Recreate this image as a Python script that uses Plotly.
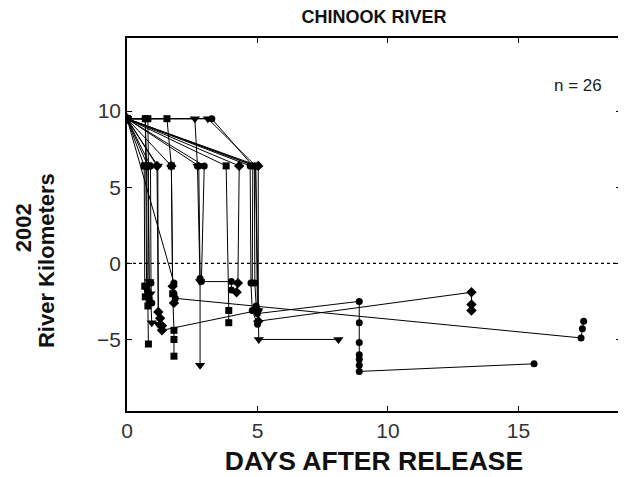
import plotly.graph_objects as go

# ---- data: each track = (days after release, river km) ----
days_01 = [0, 0.7, 0.72, 0.75, 0.8, 0.82]
rkm_01 = [9.5, 9.5, 6.4, -1.5, -2.8, -5.3]
days_02 = [0, 0.8, 0.85, 0.9, 0.95]
rkm_02 = [9.5, 6.4, -1.2, -2.0, -3.9]
days_03 = [0, 0.9, 0.92, 0.95]
rkm_03 = [9.5, 6.4, -1.3, -2.6]
days_04 = [0, 1.15, 1.2, 1.27, 1.34, 1.34, 5.0]
rkm_04 = [9.5, 6.4, -3.2, -3.6, -4.1, -4.4, -3.1]
days_05 = [0, 1.8, 1.8, 1.85, 17.4, 17.45, 17.5]
rkm_05 = [9.5, -1.3, -2.0, -2.3, -4.9, -4.3, -3.8]
days_06 = [0, 1.53, 1.7, 1.75, 1.8, 1.8, 1.8]
rkm_06 = [9.5, 9.5, 6.4, -2.0, -4.4, -5.0, -6.1]
days_07 = [0, 2.6, 2.7, 2.8, 2.8]
rkm_07 = [9.5, 9.5, 6.4, -1.2, -6.7]
days_08 = [0, 3.1, 4.93, 5.03, 5.05, 8.1]
rkm_08 = [9.5, 9.5, 6.4, -3.1, -5.0, -5.0]
days_09 = [0, 3.25, 4.82, 4.8]
rkm_09 = [9.5, 9.5, 6.4, -1.3]
days_10 = [0, 2.96, 2.85, 4.0, 4.0]
rkm_10 = [9.5, 6.4, -1.2, -1.2, -1.75]
days_11 = [0, 3.8, 3.9, 3.9]
rkm_11 = [9.5, 6.4, -3.1, -3.9]
days_12 = [0, 4.3, 4.25, 4.2]
rkm_12 = [9.5, 6.4, -1.3, -1.9]
days_13 = [0, 4.72, 4.75, 4.8, 5.0]
rkm_13 = [9.5, 6.4, -1.3, -3.1, -4.0]
days_14 = [0, 5.03, 5.03, 13.2, 13.2, 13.2]
rkm_14 = [9.5, 6.4, -3.8, -1.9, -2.7, -3.1]
days_15 = [0, 4.93, 5.0, 8.9, 8.9, 8.9, 8.9, 8.9, 8.9, 8.9, 15.6]
rkm_15 = [9.5, 6.4, -3.3, -2.5, -3.9, -5.2, -6.0, -6.3, -6.7, -7.1, -6.6]
days_16 = [0, 0.66, 0.68, 0.7]
rkm_16 = [9.5, 6.4, -1.5, -2.2]
days_17 = [0, 0.8, 0.82, 0.85]
rkm_17 = [9.5, 9.5, 6.4, -2.4]
days_18 = [0, 1.18, 1.2]
rkm_18 = [9.5, 6.4, -4.0]
days_19 = [0, 4.88, 4.9, 4.95]
rkm_19 = [9.5, 6.4, -1.3, -2.8]
days_20 = [0, 0.7, 0.75, 0.78]
rkm_20 = [9.5, 9.5, 6.4, -1.8]
days_21 = [0, 1.7, 1.75, 1.8]
rkm_21 = [9.5, 6.4, -1.5, -2.6]
days_22 = [0, 2.7, 2.75, 2.8]
rkm_22 = [9.5, 6.4, 6.4, -1.0]

tracks = [
    (days_01, rkm_01, "square"), (days_02, rkm_02, "triangle-down"),
    (days_03, rkm_03, "circle"), (days_04, rkm_04, "diamond"),
    (days_05, rkm_05, "circle"), (days_06, rkm_06, "square"),
    (days_07, rkm_07, "triangle-down"), (days_08, rkm_08, "triangle-down"),
    (days_09, rkm_09, "circle"), (days_10, rkm_10, "circle"),
    (days_11, rkm_11, "square"), (days_12, rkm_12, "diamond"),
    (days_13, rkm_13, "circle"), (days_14, rkm_14, "diamond"),
    (days_15, rkm_15, "circle"), (days_16, rkm_16, "square"),
    (days_17, rkm_17, "square"), (days_18, rkm_18, "triangle-down"),
    (days_19, rkm_19, "circle"), (days_20, rkm_20, "circle"),
    (days_21, rkm_21, "diamond"), (days_22, rkm_22, "circle"),
]

x_ticks = [0, 5, 10, 15]
y_ticks = [-5, 0, 5, 10]
n_label = "n = 26"

FONT = "Liberation Sans, Arial, sans-serif"
SIZES = {"square": 7, "circle": 7, "diamond": 8, "triangle-down": 9}

fig = go.Figure()
for d, r, sym in tracks:
    fig.add_trace(go.Scatter(
        x=d, y=r, mode="lines+markers",
        line=dict(color="black", width=1),
        marker=dict(symbol=sym, size=SIZES[sym], color="black"),
        showlegend=False, hoverinfo="skip"))

# dotted zero line
fig.add_shape(type="line", xref="paper", yref="y", x0=0, x1=1, y0=0, y1=0,
              line=dict(color="black", width=1.2, dash="dot"))

fig.add_annotation(x=17.3, y=11.7, xref="x", yref="y", text=n_label,
                   showarrow=False, font=dict(family=FONT, size=17, color="#222"))

# y-axis titles (two lines)
fig.add_annotation(x=0, y=0.49, xref="paper", yref="paper", text="<b>2002</b>",
                   showarrow=False, textangle=-90, xanchor="center", yanchor="middle",
                   xshift=-104,
                   font=dict(family=FONT, size=22, color="#111"))
fig.add_annotation(x=0, y=0.402, xref="paper", yref="paper",
                   text="<b>River Kilometers</b>", showarrow=False, textangle=-90,
                   xanchor="center", yanchor="middle", xshift=-81,
                   font=dict(family=FONT, size=22, color="#111"))

# page has an 8px body margin, so the figure is sized/offset to compensate
fig.update_layout(
    width=618, height=469,
    margin=dict(l=119, r=5, t=30, b=66),
    paper_bgcolor="white", plot_bgcolor="white",
    title=dict(text="<b>CHINOOK RIVER</b>", x=0.5, xref="paper", xanchor="center",
               y=1 - 9 / 469, yref="container", yanchor="middle",
               font=dict(family=FONT, size=18, color="#111")),
    font=dict(family=FONT),
    xaxis=dict(range=[0, 18.93], tickvals=x_ticks, ticks="inside", ticklen=5,
               tickwidth=1, tickcolor="black", showline=True, linecolor="black",
               linewidth=1.5, mirror="ticks", showgrid=False, zeroline=False,
               automargin=False,
               tickfont=dict(family=FONT, size=21, color="#333"),
               title=dict(text="<b>DAYS AFTER RELEASE</b>", standoff=10,
                          font=dict(family=FONT, size=26.5, color="#111"))),
    yaxis=dict(range=[-9.7, 14.8], tickvals=y_ticks, ticks="inside", ticklen=5,
               tickwidth=1, tickcolor="black", showline=True, linecolor="black",
               linewidth=1.5, mirror="ticks", showgrid=False, zeroline=False,
               automargin=False,
               tickfont=dict(family=FONT, size=21, color="#333")),
)

fig.write_html("out.html")
